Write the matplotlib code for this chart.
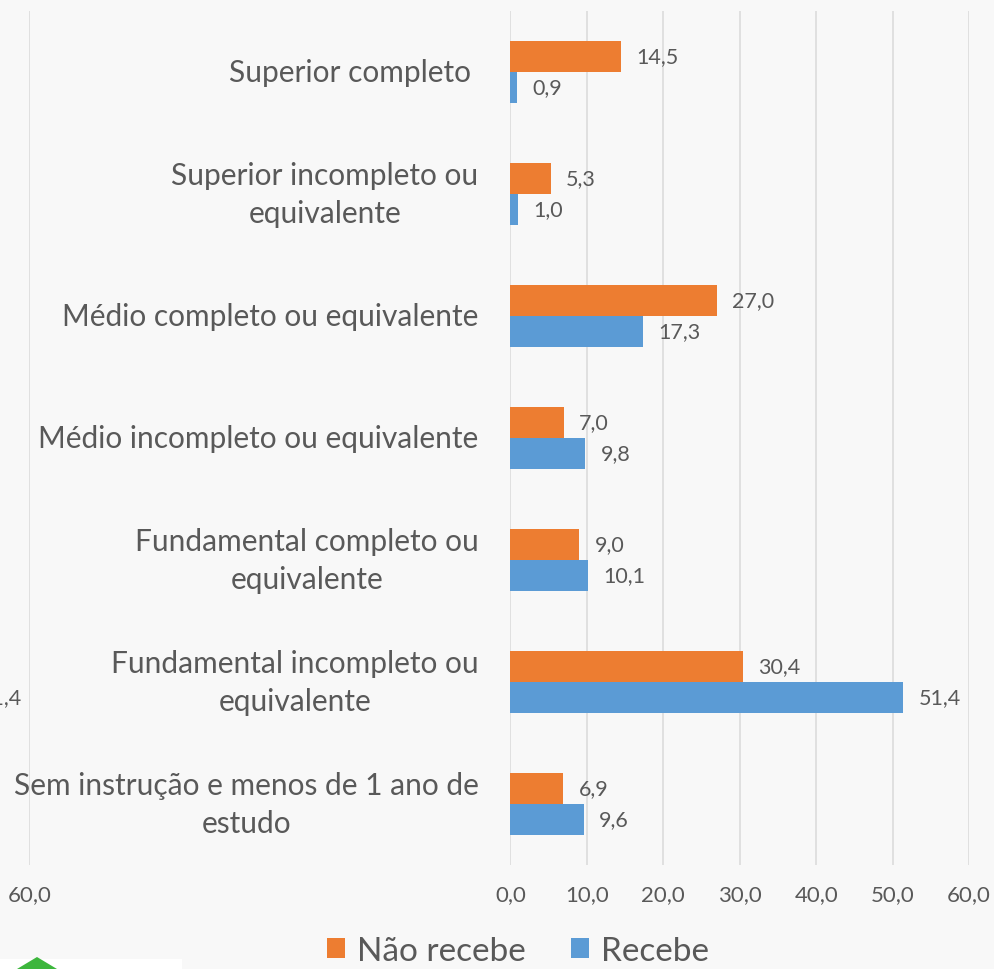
import matplotlib
matplotlib.use("Agg")
import matplotlib.pyplot as plt
import numpy as np
from matplotlib.patches import Rectangle, Polygon

plt.rcParams["font.family"] = ["Lato", "DejaVu Sans"]

categories = [
    "Superior completo ",
    "Superior incompleto ou\nequivalente",
    "Médio completo ou equivalente",
    "Médio incompleto ou equivalente",
    "Fundamental completo ou\nequivalente",
    "Fundamental incompleto ou\nequivalente",
    "Sem instrução e menos de 1 ano de\nestudo",
]
nao_recebe = [14.5, 5.3, 27.0, 7.0, 9.0, 30.4, 6.9]
recebe = [0.9, 1.0, 17.3, 9.8, 10.1, 51.4, 9.6]
series_names = ["Não recebe", "Recebe"]
x_ticks = [0, 10, 20, 30, 40, 50, 60]

ORANGE = "#ED7D31"
BLUE = "#5B9BD5"
TEXT = "#595959"
GRID = "#d9d9d9"
BG = "#f8f8f8"

W, H = 995, 970
fig = plt.figure(figsize=(W / 100, H / 100), dpi=100, facecolor=BG)


def fmt(v):
    return f"{v:.1f}".replace(".", ",")


def draw_panel(ax, show_categories):
    ax.set_facecolor("none")
    y = np.arange(len(categories))
    h = 0.254
    b1 = ax.barh(y - h / 2, nao_recebe, height=h, color=ORANGE, label=series_names[0])
    b2 = ax.barh(y + h / 2, recebe, height=h, color=BLUE, label=series_names[1])
    ax.bar_label(b1, labels=[fmt(v) for v in nao_recebe], padding=11,
                 fontsize=15.5, color=TEXT)
    ax.bar_label(b2, labels=[fmt(v) for v in recebe], padding=11,
                 fontsize=15.5, color=TEXT)
    ax.set_xlim(0, 60)
    ax.set_ylim(len(categories) - 0.5, -0.5)
    ax.set_xticks(x_ticks)
    ax.set_xticklabels([fmt(v) for v in x_ticks], fontsize=16, color=TEXT)
    ax.grid(axis="x", color=GRID, linewidth=1.1)
    ax.set_axisbelow(True)
    for s in ax.spines.values():
        s.set_visible(False)
    ax.tick_params(axis="x", length=0, pad=14)
    ax.tick_params(axis="y", length=0, pad=23)
    if show_categories:
        ax.set_yticks(y)
        ax.set_yticklabels(categories, fontsize=21.5, color=TEXT)
        for lbl in ax.get_yticklabels():
            lbl.set_multialignment("center")
            lbl.set_verticalalignment("center")
            lbl.set_linespacing(1.42)
    else:
        ax.set_yticks([])
    return b1, b2


x0, x60 = 510.5, 969.0
top, bottom = 12, 866
pw, ph = (x60 - x0) / W, (bottom - top) / H

# neighbouring panel, mostly outside the canvas on the left (drawn underneath)
lx60 = 30.0
ax_left = fig.add_axes([(lx60 - (x60 - x0)) / W, 1 - bottom / H, pw, ph])
ax_left.set_zorder(0)
draw_panel(ax_left, False)

ax = fig.add_axes([x0 / W, 1 - bottom / H, pw, ph])
ax.set_zorder(1)
b1, b2 = draw_panel(ax, True)

fig.legend(handles=[b1, b2], labels=series_names, loc="center",
           bbox_to_anchor=(518 / W, 1 - 952 / H), ncol=2, frameon=False,
           fontsize=24, labelcolor=TEXT, handlelength=0.55, handleheight=0.55,
           handletextpad=0.35, columnspacing=1.35, borderpad=0.1)

# logo fragment at the bottom-left corner
fig.patches.append(Rectangle((0, 0), 182 / W, 10 / H, transform=fig.transFigure,
                             facecolor="white", edgecolor="none"))
fig.patches.append(Polygon([(17 / W, 0), (37 / W, 12 / H), (57 / W, 0)],
                           closed=True, transform=fig.transFigure,
                           facecolor="#3cb63c", edgecolor="none"))

# hide texts of the left panel that fall entirely outside the canvas
fig.canvas.draw()
renderer = fig.canvas.get_renderer()
for t in list(ax_left.texts) + list(ax_left.get_xticklabels()):
    if t.get_window_extent(renderer).x1 <= 0:
        t.set_visible(False)

fig.savefig("out.png", dpi=100, facecolor=BG)
